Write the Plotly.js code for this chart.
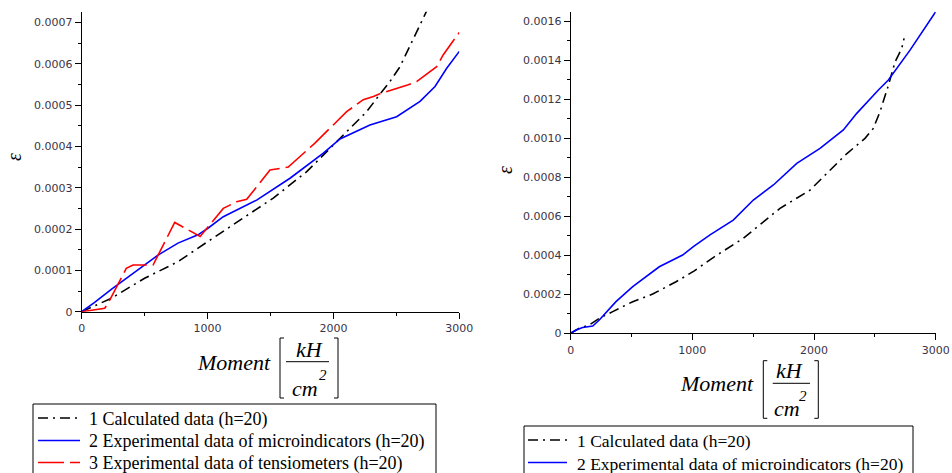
<!DOCTYPE html>
<html>
<head>
<meta charset="utf-8">
<script src="https://cdn.plot.ly/plotly-3.0.1.min.js"></script>
<style>html,body{margin:0;padding:0;background:#fff;}#chart{width:952px;height:473px;}</style>
</head>
<body>
<div id="chart"></div>
<script>
// ---- Left chart data ----
const leftCalcX = [0, 235, 500, 765, 1003, 1258, 1522, 1788, 2052, 2264, 2356, 2449, 2529, 2635, 2741];
const leftCalcY = [0, 0.0000325, 0.000081, 0.000121, 0.00017, 0.000222, 0.000275, 0.000339, 0.00042, 0.000484, 0.000521, 0.000557, 0.000593, 0.000662, 0.000728];

const leftMicroX = [0, 100, 235, 370, 500, 606, 765, 924, 1003, 1125, 1390, 1655, 1920, 2052, 2290, 2502, 2688, 2807, 2900, 3000];
const leftMicroY = [0, 0.000022, 0.000054, 0.000085, 0.000113, 0.000137, 0.000166, 0.000186, 0.000202, 0.00023, 0.00027, 0.000323, 0.000384, 0.000418, 0.000452, 0.000472, 0.000509, 0.000545, 0.000589, 0.00063];

const leftTensX = [0, 183, 209, 354, 408, 567, 739, 941, 1125, 1231, 1311, 1496, 1641, 1853, 2105, 2237, 2317, 2383, 2595, 2661, 2820, 2873, 3000];
const leftTensY = [0, 0.0000082, 0.00002, 0.000105, 0.000113, 0.000113, 0.000216, 0.000182, 0.00025, 0.000266, 0.000272, 0.000343, 0.00035, 0.000408, 0.000484, 0.000513, 0.000521, 0.000529, 0.000549, 0.000557, 0.000593, 0.000622, 0.000676];

// ---- Right chart data ----
const rightCalcX = [0, 71, 153, 235, 345, 510, 674, 866, 1016, 1180, 1419, 1720, 1967, 2268, 2419, 2487, 2542, 2611, 2666, 2721, 2740];
const rightCalcY = [0, 0.000026, 0.000043, 0.000077, 0.000111, 0.000162, 0.000201, 0.000264, 0.00032, 0.000392, 0.000487, 0.00064, 0.000734, 0.00092, 0.000999, 0.00105, 0.001135, 0.00127, 0.001391, 0.00146, 0.001511];

const rightMicroX = [0, 44, 98, 181, 235, 372, 510, 728, 920, 1008, 1145, 1336, 1501, 1666, 1858, 2049, 2241, 2351, 2529, 2611, 2789, 3000];
const rightMicroY = [0, 0.000017, 0.00003, 0.000037, 0.000068, 0.000162, 0.000239, 0.000341, 0.000401, 0.000444, 0.000504, 0.00058, 0.000683, 0.00076, 0.000871, 0.000948, 0.001042, 0.001127, 0.001247, 0.001298, 0.001451, 0.001648];

// ---- Tick labels ----
const xTickVals = [0, 1000, 2000, 3000];
const xTickText = ['0', '1000', '2000', '3000'];
const leftYTickVals = [0, 0.0001, 0.0002, 0.0003, 0.0004, 0.0005, 0.0006, 0.0007];
const leftYTickText = ['0', '0.0001', '0.0002', '0.0003', '0.0004', '0.0005', '0.0006', '0.0007'];
const rightYTickVals = [0, 0.0002, 0.0004, 0.0006, 0.0008, 0.0010, 0.0012, 0.0014, 0.0016];
const rightYTickText = ['0', '0.0002', '0.0004', '0.0006', '0.0008', '0.0010', '0.0012', '0.0014', '0.0016'];

const legendNames = ['1 Calculated data (h=20)', '2 Experimental data of microindicators (h=20)', '3 Experimental data of tensiometers (h=20)'];

const W = 952, H = 473;
const px = v => v / W;
const py = v => 1 - v / H;
const serif = "'Liberation Serif', 'Times New Roman', Times, 'DejaVu Serif', serif";

const calcLine = {color: '#000000', width: 1.6, dash: '10px,5px,2px,5px'};
const microLine = {color: '#0000ff', width: 1.6};
const tensLine = {color: '#ff0000', width: 1.6, dash: '26px,6px'};
const lineStyles = [calcLine, microLine, tensLine];

const traces = [
  {x: leftCalcX, y: leftCalcY, mode: 'lines', name: legendNames[0], line: calcLine, xaxis: 'x', yaxis: 'y'},
  {x: leftMicroX, y: leftMicroY, mode: 'lines', name: legendNames[1], line: microLine, xaxis: 'x', yaxis: 'y'},
  {x: leftTensX, y: leftTensY, mode: 'lines', name: legendNames[2], line: tensLine, xaxis: 'x', yaxis: 'y'},
  {x: rightCalcX, y: rightCalcY, mode: 'lines', name: legendNames[0], line: calcLine, xaxis: 'x2', yaxis: 'y2'},
  {x: rightMicroX, y: rightMicroY, mode: 'lines', name: legendNames[1], line: microLine, xaxis: 'x2', yaxis: 'y2'}
];

const tickFont = {family: 'DejaVu Sans', size: 11, color: '#3a3448'};
const baseAxis = {
  showline: true, linecolor: '#000', linewidth: 1, showgrid: false, zeroline: false,
  ticks: 'outside', ticklen: 6, tickwidth: 1, tickcolor: '#000', tickfont: tickFont,
  tickmode: 'array', fixedrange: true
};

function bracketShapes(xl, xr, top, bot) {
  const s = 4;
  return [
    {type: 'path', xref: 'paper', yref: 'paper', line: {color: '#000', width: 1},
     path: `M${px(xl + s)},${py(top)} L${px(xl)},${py(top)} L${px(xl)},${py(bot)} L${px(xl + s)},${py(bot)}`},
    {type: 'path', xref: 'paper', yref: 'paper', line: {color: '#000', width: 1},
     path: `M${px(xr - s)},${py(top)} L${px(xr)},${py(top)} L${px(xr)},${py(bot)} L${px(xr - s)},${py(bot)}`}
  ];
}
function hLine(x0, x1, y, style) {
  return {type: 'line', xref: 'paper', yref: 'paper', x0: px(x0), x1: px(x1), y0: py(y), y1: py(y),
          line: style || {color: '#000', width: 1}};
}
function ann(text, x, y, size, xanchor, angle) {
  return {text: text, xref: 'paper', yref: 'paper', x: px(x), y: py(y), xanchor: xanchor || 'center', yanchor: 'middle',
          showarrow: false, textangle: angle || 0, font: {family: serif, size: size, color: '#000'}};
}

// manual legend boxes (legend keys + labels)
function legendBox(x0, x1, top, sampleX0, sampleX1, textX, rows, count, fsize) {
  const shapes = [{type: 'rect', xref: 'paper', yref: 'paper', x0: px(x0), x1: px(x1), y0: py(top), y1: py(H + 10),
                   line: {color: '#000', width: 1}, fillcolor: 'rgba(0,0,0,0)'}];
  const anns = [];
  for (let i = 0; i < count; i++) {
    shapes.push(hLine(sampleX0, sampleX1, rows[i], lineStyles[i]));
    anns.push(ann(legendNames[i], textX, rows[i] + 1, fsize, 'left'));
  }
  return {shapes, anns};
}
const legL = legendBox(33, 436, 404, 38, 80, 86.5, [418, 440.5, 462.5], 3, 18);
const legR = legendBox(524, 913, 426, 528, 567, 574.5, [440, 462.5], 2, 17.5);

const layout = {
  width: W, height: H,
  margin: {l: 0, r: 0, t: 0, b: 0, autoexpand: false},
  paper_bgcolor: '#fff', plot_bgcolor: '#fff',
  showlegend: false,
  xaxis: Object.assign({}, baseAxis, {domain: [px(81.7), px(459.3)], range: [0, 3000], tickvals: xTickVals, ticktext: xTickText,
    minor: {tickmode: 'linear', tick0: 0, dtick: 500, ticklen: 3, tickcolor: '#000', ticks: 'outside'}, anchor: 'y'}),
  yaxis: Object.assign({}, baseAxis, {domain: [py(311.7), py(11.7)], range: [0, 0.000726], tickvals: leftYTickVals, ticktext: leftYTickText,
    minor: {tickmode: 'linear', tick0: 0, dtick: 0.00005, ticklen: 3, tickcolor: '#000', ticks: 'outside'}, anchor: 'x'}),
  xaxis2: Object.assign({}, baseAxis, {domain: [px(570.7), px(935.7)], range: [0, 3000], tickvals: xTickVals, ticktext: xTickText,
    minor: {tickmode: 'linear', tick0: 0, dtick: 500, ticklen: 3, tickcolor: '#000', ticks: 'outside'}, anchor: 'y2'}),
  yaxis2: Object.assign({}, baseAxis, {domain: [py(333.3), py(11.7)], range: [0, 0.001648], tickvals: rightYTickVals, ticktext: rightYTickText,
    minor: {tickmode: 'linear', tick0: 0, dtick: 0.0001, ticklen: 3, tickcolor: '#000', ticks: 'outside'}, anchor: 'x2'}),
  shapes: [].concat(
    bracketShapes(280, 338, 338, 398), [hLine(286, 329, 361.7)],
    bracketShapes(763.3, 818.3, 360.7, 418.3), [hLine(772.7, 810, 383.3)],
    legL.shapes, legR.shapes
  ),
  annotations: [
    ann('<i>ε</i>', 14, 157, 20, 'center', -90),
    ann('<i>ε</i>', 505, 170, 20, 'center', -90),
    ann('<i>Moment</i>', 273, 362, 22, 'right'),
    ann('<i>kH</i>', 309, 349, 22),
    ann('<i>cm</i>', 305, 388, 22),
    ann('<i>2</i>', 323, 375, 15),
    ann('<i>Moment</i>', 756, 383, 22, 'right'),
    ann('<i>kH</i>', 789, 370, 22),
    ann('<i>cm</i>', 787, 408, 22),
    ann('<i>2</i>', 803, 396, 15)
  ].concat(legL.anns, legR.anns)
};

Plotly.newPlot('chart', traces, layout, {staticPlot: true, displayModeBar: false});
</script>
</body>
</html>
